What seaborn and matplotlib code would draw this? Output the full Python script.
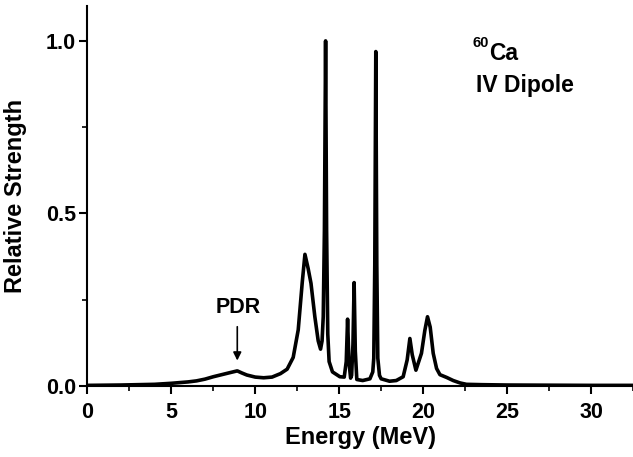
import numpy as np
import pandas as pd
import matplotlib
matplotlib.use("Agg")
import matplotlib.pyplot as plt
import seaborn as sns

# strength function of 60Ca
energie = [0, 1, 2, 3, 4, 5, 5.5, 6, 6.5, 7, 7.5, 8, 8.5, 8.93, 9.2, 9.5,
           10, 10.5, 11, 11.5, 11.9, 12.26, 12.56, 12.8, 12.96, 13.15, 13.32,
           13.55, 13.75, 13.89, 13.98, 14.05, 14.12, 14.19, 14.25, 14.32, 14.40,
           14.6, 15.04, 15.3, 15.42, 15.50, 15.58, 15.68, 15.74, 15.82, 15.89,
           15.96, 16.05, 16.4, 16.83, 17.0, 17.06, 17.12, 17.18, 17.24, 17.30,
           17.40, 17.5, 18.0, 18.4, 18.81, 19.05, 19.21, 19.35, 19.57, 19.90,
           20.1, 20.26, 20.42, 20.6, 20.8, 21.0, 21.4, 21.79, 22.2, 22.58, 23.5,
           25, 27.5, 30, 32.5]
force = [0.001, 0.0015, 0.002, 0.003, 0.004, 0.007, 0.009, 0.011, 0.014, 0.019,
         0.026, 0.032, 0.038, 0.043, 0.037, 0.031, 0.025, 0.023, 0.025, 0.035,
         0.048, 0.082, 0.162, 0.30, 0.381, 0.34, 0.297, 0.20, 0.13, 0.106, 0.13,
         0.2, 0.45, 1.0, 0.45, 0.15, 0.07, 0.04, 0.026, 0.025, 0.07, 0.193, 0.07,
         0.022, 0.03, 0.12, 0.299, 0.10, 0.018, 0.015, 0.02, 0.04, 0.08, 0.35,
         0.969, 0.35, 0.08, 0.03, 0.02, 0.013, 0.015, 0.026, 0.075, 0.137, 0.09,
         0.045, 0.094, 0.16, 0.200, 0.17, 0.094, 0.05, 0.032, 0.024, 0.015,
         0.008, 0.004, 0.003, 0.002, 0.0015, 0.001, 0.001]

df = pd.DataFrame({"E": energie, "S": force})

sns.set_style("ticks")
plt.rcParams["font.family"] = ["Liberation Sans", "DejaVu Sans"]
plt.rcParams["font.weight"] = "bold"
plt.rcParams["text.color"] = "black"
plt.rcParams["axes.labelcolor"] = "black"

fig = plt.figure(figsize=(6.33, 4.57), dpi=100)
ax = fig.add_axes([0.138, 0.156, 0.862, 0.830])

sns.lineplot(x="E", y="S", data=df, ax=ax, color="black", linewidth=2.6)

ax.set_xlim(0, 32.5)
ax.set_ylim(0, 1.1)
ax.set_xticks([0, 5, 10, 15, 20, 25, 30])
ax.set_xticks(np.arange(2.5, 33, 5), minor=True)
ax.set_yticks([0.0, 0.5, 1.0])
ax.set_yticklabels(["0.0", "0.5", "1.0"])
ax.set_yticks([0.25, 0.75], minor=True)

for s in ["top", "right"]:
    ax.spines[s].set_visible(False)
for s in ["left", "bottom"]:
    ax.spines[s].set_linewidth(1.5)
    ax.spines[s].set_color("black")

ax.tick_params(which="major", direction="out", length=6, width=1.5,
               labelsize=15.5, colors="black", labelcolor="black")
ax.tick_params(axis="x", which="major", pad=6)
ax.tick_params(axis="y", which="major", pad=2)
ax.tick_params(which="minor", direction="out", length=3.5, width=1.2, colors="black")

ax.set_xlabel("Energy (MeV)", fontsize=17, fontweight="bold", color="black")
ax.set_ylabel("Relative Strength", fontsize=17, fontweight="bold", color="black")
ax.xaxis.set_label_coords(0.5, -0.105)
ax.yaxis.set_label_coords(-0.11, 0.5)

# annotations
ax.text(22.97, 0.994, "60", fontsize=10.5, fontweight="bold", va="center", ha="left")
ax.text(23.95, 0.962, "Ca", fontsize=16.5, fontweight="bold", va="center", ha="left")
ax.text(23.14, 0.87, "IV Dipole", fontsize=16.5, fontweight="bold", va="center", ha="left")

ax.text(8.99, 0.227, "PDR", fontsize=15.5, fontweight="bold", va="center", ha="center")
ax.annotate("", xy=(8.93, 0.073), xytext=(8.93, 0.171),
            arrowprops=dict(arrowstyle="-|>", color="black", lw=1.2,
                            mutation_scale=12, shrinkA=0, shrinkB=0))

plt.savefig("out.png", dpi=100)
